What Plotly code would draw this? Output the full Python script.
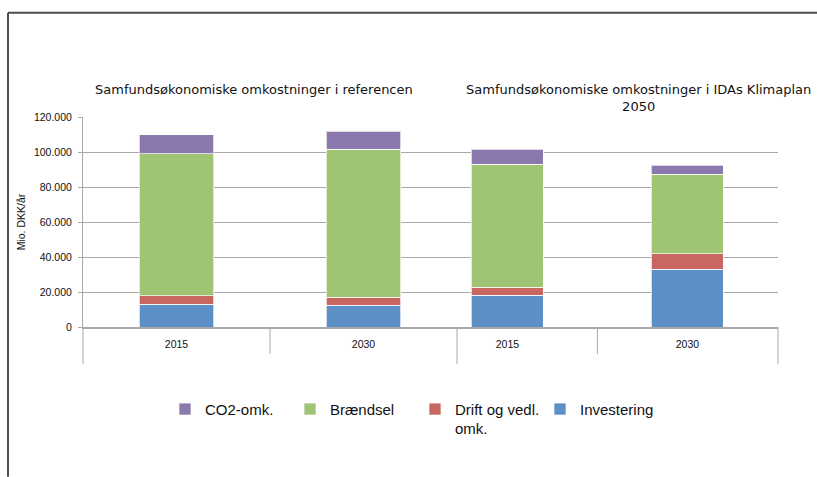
import plotly.graph_objects as go

# ---------------------------- data (Mio. DKK/år) ---------------------------- #
years = ["2015", "2030"]

investering_ref = [13000, 12400]
drift_ref = [5000, 4700]
braendsel_ref = [81000, 84600]
co2_ref = [11000, 10200]

investering_ida = [18200, 33100]
drift_ida = [4600, 8700]
braendsel_ida = [70300, 45400]
co2_ida = [8400, 5200]

series_names = ["Investering", "Drift og vedl.<br>omk.", "Brændsel", "CO2-omk."]
series_colors = ["#5b8fc6", "#c8675f", "#9fc474", "#8b79ae"]
ref_values = [investering_ref, drift_ref, braendsel_ref, co2_ref]
ida_values = [investering_ida, drift_ida, braendsel_ida, co2_ida]

title_ref = "Samfundsøkonomiske omkostninger i referencen"
title_ida = "Samfundsøkonomiske omkostninger i IDAs Klimaplan<br>2050"

W, H = 817, 477
L, R, T, B = 83, 39, 116.5, 150
plot_w = W - L - R
plot_h = H - T - B
split = (457 - L) / plot_w

fig = go.Figure()

# -------------------------- stacked bars, both charts ----------------------- #
for name, color, rv, iv in zip(series_names, series_colors, ref_values, ida_values):
    fig.add_trace(go.Bar(
        x=years, y=rv, name=name, legendgroup=name,
        marker=dict(color=color, line=dict(color="rgba(255,255,255,0.7)", width=1)),
        xaxis="x", yaxis="y",
    ))
    fig.add_trace(go.Bar(
        x=years, y=iv, name=name, legendgroup=name, showlegend=False,
        marker=dict(color=color, line=dict(color="rgba(255,255,255,0.7)", width=1)),
        xaxis="x2", yaxis="y",
    ))

axis_font = dict(family="Liberation Sans, Arial", size=10.5, color="#111")
grid_col = "#a9a9a9"

# category box lines under the x axis
def vline(xref, x, depth):
    return dict(type="line", xref=xref, yref="paper", x0=x, x1=x,
                y0=0, y1=-depth / plot_h, line=dict(color=grid_col, width=1))

shapes = [
    vline("x domain", 0, 37), vline("x", 0.5, 27), vline("x domain", 1, 37),
    vline("x2", 0.5, 27), vline("x2 domain", 1, 37),
    # outer chart frame
    dict(type="line", xref="paper", yref="paper",
         x0=(8 - L) / plot_w, x1=(8 - L) / plot_w,
         y0=(H - B - 12) / plot_h, y1=(H - B - H) / plot_h,
         line=dict(color="#4d4d4d", width=2)),
    dict(type="line", xref="paper", yref="paper",
         x0=(8 - L) / plot_w, x1=(W - L) / plot_w,
         y0=(H - B - 12) / plot_h, y1=(H - B - 12) / plot_h,
         line=dict(color="#4d4d4d", width=2)),
]

title_font = dict(family="DejaVu Sans", size=13, color="#111")
annotations = [
    dict(text=title_ref, xref="paper", yref="paper",
         x=(254 - L) / plot_w, y=(H - B - 79) / plot_h,
         xanchor="center", yanchor="top", showarrow=False, font=title_font),
    dict(text=title_ida, xref="paper", yref="paper",
         x=(638 - L) / plot_w, y=(H - B - 79) / plot_h,
         xanchor="center", yanchor="top", showarrow=False, font=title_font),
]

fig.update_layout(
    width=W, height=H,
    margin=dict(l=L, r=R, t=T, b=B),
    paper_bgcolor="white", plot_bgcolor="white",
    barmode="stack", bargap=0.6,
    separators=",.",
    xaxis=dict(domain=[0, split], type="category", range=[-0.5, 1.5],
               showline=True, linecolor=grid_col, linewidth=1.5,
               showgrid=False, ticks="", tickfont=axis_font,
               ticklabelstandoff=7, anchor="y", automargin=False),
    xaxis2=dict(domain=[split, 1], type="category", range=[-0.28, 1.503],
                showline=True, linecolor=grid_col, linewidth=1.5,
                showgrid=False, ticks="", tickfont=axis_font,
                ticklabelstandoff=7, anchor="y", automargin=False),
    yaxis=dict(range=[0, 120000], dtick=20000, tickformat=",d",
               showgrid=True, gridcolor=grid_col, gridwidth=1.3,
               showline=True, linecolor=grid_col, linewidth=1,
               ticks="outside", ticklen=4, tickcolor=grid_col,
               tickfont=axis_font, zeroline=False, ticklabelstandoff=4,
               automargin=False,
               title=dict(text="Mio. DKK/år", standoff=6,
                          font=dict(family="Liberation Sans, Arial", size=10.5, color="#111"))),
    legend=dict(orientation="h", traceorder="reversed",
                x=(165 - L) / plot_w, xanchor="left",
                y=(H - B - 393) / plot_h, yanchor="top",
                font=dict(family="Liberation Sans, Arial", size=15, color="#111"),
                entrywidth=80, entrywidthmode="pixels",
                valign="top", bgcolor="rgba(0,0,0,0)"),
    shapes=shapes,
    annotations=annotations,
)

fig.write_html("out.html", config=dict(displayModeBar=False),
               post_script="document.body.style.margin='0';document.body.style.overflow='hidden';")
